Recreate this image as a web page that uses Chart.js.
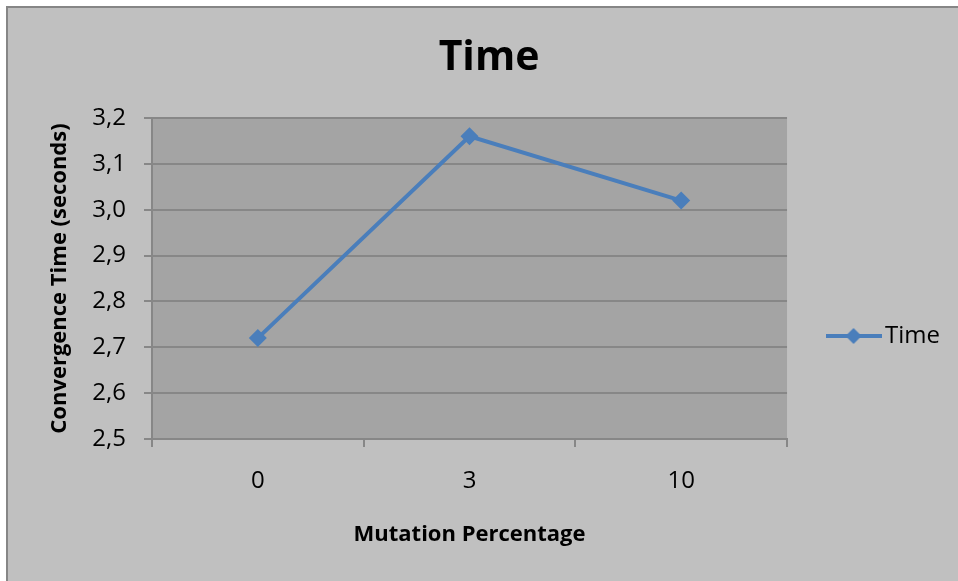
<!DOCTYPE html>
<html>
<head>
<meta charset="utf-8">
<script src="https://cdn.jsdelivr.net/npm/chart.js@4/dist/chart.umd.min.js"></script>
<style>
  html, body { margin: 0; padding: 0; background: #ffffff; overflow: hidden; }
  #wrap { position: absolute; left: 0; top: 0; width: 958px; height: 581px; }
</style>
</head>
<body>
<div id="wrap"><canvas id="chart" width="958" height="581"></canvas></div>
<script>
// Convergence time per mutation percentage
const categories = ['0', '3', '10'];
const timeSeconds = [2.72, 3.16, 3.02];
const yTickLabels = ['2,5', '2,6', '2,7', '2,8', '2,9', '3,0', '3,1', '3,2'];
const yMin = 2.5, yMax = 3.2, yStep = 0.1;

const FONT = "'Open Sans', 'Noto Sans', sans-serif";
const BLUE = '#4A7EBB';
const GRID = '#878787';

// legend marker: short line with a diamond in the middle
function legendMarker() {
  const c = document.createElement('canvas');
  c.width = 56; c.height = 20;
  const g = c.getContext('2d');
  g.strokeStyle = BLUE; g.lineWidth = 4;
  g.beginPath(); g.moveTo(0, 10); g.lineTo(56, 10); g.stroke();
  g.fillStyle = BLUE;
  g.beginPath(); g.moveTo(28, 2); g.lineTo(36, 10); g.lineTo(28, 18); g.lineTo(20, 10); g.closePath(); g.fill();
  return c;
}

// page frame, chart background and plot-area fill
const backdrop = {
  id: 'backdrop',
  beforeDraw(chart) {
    const ctx = chart.ctx, a = chart.chartArea;
    ctx.save();
    ctx.fillStyle = '#ffffff';
    ctx.fillRect(0, 0, chart.width, chart.height);
    ctx.fillStyle = '#868686';
    ctx.fillRect(6, 6, chart.width - 6, chart.height - 6);
    ctx.fillStyle = '#c0c0c0';
    ctx.fillRect(8, 8, chart.width - 8, chart.height - 8);
    ctx.fillStyle = '#a4a4a4';
    ctx.fillRect(a.left, a.top, a.right - a.left, a.bottom - a.top);
    ctx.restore();
  }
};

Chart.defaults.font.family = FONT;
Chart.defaults.color = '#000000';

new Chart(document.getElementById('chart'), {
  type: 'line',
  data: {
    labels: categories,
    datasets: [{
      label: 'Time',
      data: timeSeconds,
      borderColor: BLUE,
      backgroundColor: BLUE,
      borderWidth: 4,
      tension: 0,
      pointStyle: 'rectRot',
      pointRadius: 9,
      pointHoverRadius: 9,
      pointBackgroundColor: BLUE,
      pointBorderWidth: 0
    }]
  },
  options: {
    responsive: false,
    animation: false,
    events: [],
    layout: { padding: { left: 28, right: 8, top: 0, bottom: 0 } },
    plugins: {
      tooltip: { enabled: false },
      title: {
        display: true,
        text: 'Time',
        color: '#000000',
        font: { size: 41, weight: 'bold', lineHeight: 1.2 },
        padding: { top: 33.4, bottom: 35.4 }
      },
      legend: {
        display: true,
        position: 'right',
        align: 'center',
        title: { display: true, text: '', font: { size: 10, lineHeight: 1.2 }, padding: { top: 79, bottom: 0 } },
        labels: {
          usePointStyle: true,
          pointStyle: legendMarker(),
          pointStyleWidth: 39,
          padding: 47,
          color: '#000000',
          font: { size: 24 }
        }
      }
    },
    scales: {
      x: {
        type: 'category',
        offset: true,
        afterFit(scale) { scale.height = 142; },
        grid: {
          display: true,
          offset: true,
          drawOnChartArea: false,
          drawTicks: true,
          tickLength: 8,
          color: GRID,
          lineWidth: 2
        },
        border: { display: true, color: GRID, width: 2 },
        ticks: { color: '#000000', font: { size: 24 }, padding: 20, maxRotation: 0 },
        title: {
          display: true,
          text: 'Mutation Percentage',
          color: '#000000',
          font: { size: 22, weight: 'bold', lineHeight: 1.2 },
          padding: { top: 0, bottom: 32.8 }
        }
      },
      y: {
        type: 'linear',
        min: yMin,
        max: yMax,
        afterFit(scale) { scale.width = 124; },
        grid: { color: GRID, lineWidth: 2, drawTicks: true, tickLength: 8 },
        border: { display: true, color: GRID, width: 2 },
        ticks: {
          stepSize: yStep,
          color: '#000000',
          font: { size: 24 },
          padding: 18,
          callback: (v, i) => yTickLabels[i]
        },
        title: {
          display: true,
          text: 'Convergence Time (seconds)',
          color: '#000000',
          font: { size: 22, weight: 'bold', lineHeight: 1.2 },
          padding: { top: 18.8, bottom: 0 }
        }
      }
    }
  },
  plugins: [backdrop]
});
</script>
</body>
</html>
